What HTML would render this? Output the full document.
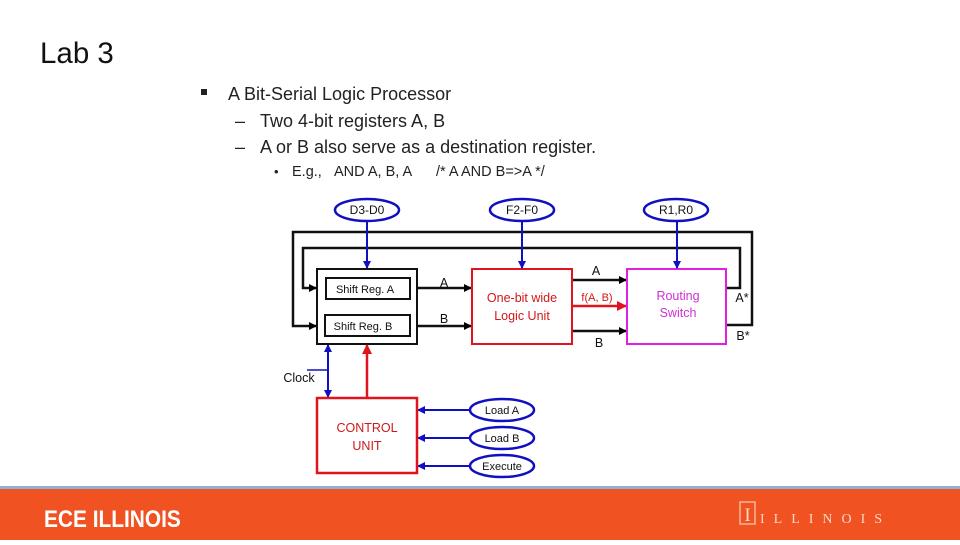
<!DOCTYPE html>
<html><head><meta charset="utf-8"><style>
body{margin:0;width:960px;height:540px;overflow:hidden;background:#fff;font-family:"Liberation Sans",sans-serif}
</style></head><body>
<svg width="960" height="540" viewBox="0 0 960 540" xmlns="http://www.w3.org/2000/svg" font-family="Liberation Sans, sans-serif">
<defs>
<marker id="ak" markerWidth="8" markerHeight="8" refX="7" refY="4" orient="auto" markerUnits="userSpaceOnUse"><path d="M0,0 L8,4 L0,8 z" fill="#000"/></marker>
<marker id="ab" markerWidth="8" markerHeight="8" refX="7" refY="4" orient="auto" markerUnits="userSpaceOnUse"><path d="M0,0 L8,4 L0,8 z" fill="#1010c0"/></marker>
<marker id="ar" markerWidth="10" markerHeight="10" refX="9" refY="5" orient="auto" markerUnits="userSpaceOnUse"><path d="M0,0 L10,5 L0,10 z" fill="#e0141c"/></marker>
</defs>
<text x="40" y="63" font-size="29.5" fill="#111">Lab 3</text>
<rect x="201" y="89" width="6" height="6" fill="#222"/>
<text x="228" y="100" font-size="18" fill="#222">A Bit-Serial Logic Processor</text>
<text x="235" y="127" font-size="18" fill="#222">–</text>
<text x="260" y="127" font-size="18" fill="#222">Two 4-bit registers A, B</text>
<text x="235" y="153" font-size="18" fill="#222">–</text>
<text x="260" y="153" font-size="18" fill="#222">A or B also serve as a destination register.</text>
<text x="274" y="176" font-size="13" fill="#222">•</text>
<text x="292" y="176" font-size="14.5" fill="#222">E.g.,</text>
<text x="334" y="176" font-size="14.5" fill="#222">AND A, B, A</text>
<text x="436" y="176" font-size="14.5" fill="#222">/* A AND B=&gt;A */</text>

<g fill="none" stroke="#111" stroke-width="2.5">
<polyline points="727,325 752,325 752,232 293,232 293,326 316,326" marker-end="url(#ak)"/>
<polyline points="727,288 740,288 740,248 303,248 303,288 316,288" marker-end="url(#ak)"/>
<line x1="417" y1="288" x2="471" y2="288" marker-end="url(#ak)"/>
<line x1="417" y1="326" x2="471" y2="326" marker-end="url(#ak)"/>
<line x1="572" y1="280" x2="626" y2="280" marker-end="url(#ak)"/>
<line x1="572" y1="331" x2="626" y2="331" marker-end="url(#ak)"/>
</g>
<line x1="572" y1="306" x2="626" y2="306" stroke="#e0141c" stroke-width="2.5" marker-end="url(#ar)"/>
<rect x="317" y="269" width="100" height="75" fill="#fff" stroke="#111" stroke-width="2"/>
<rect x="326" y="278" width="84" height="21" fill="#fff" stroke="#111" stroke-width="2"/>
<rect x="325" y="315" width="85" height="21" fill="#fff" stroke="#111" stroke-width="2"/>
<text x="365" y="293" font-size="11" text-anchor="middle" fill="#111">Shift Reg. A</text>
<text x="363" y="330" font-size="11" text-anchor="middle" fill="#111">Shift Reg. B</text>
<rect x="472" y="269" width="100" height="75" fill="#fff" stroke="#e0141c" stroke-width="2"/>
<text x="522" y="302" font-size="12.5" text-anchor="middle" fill="#d01818">One-bit wide</text>
<text x="522" y="320" font-size="12.5" text-anchor="middle" fill="#d01818">Logic Unit</text>
<rect x="627" y="269" width="99" height="75" fill="#fff" stroke="#e020e0" stroke-width="2"/>
<text x="678" y="300" font-size="12.5" text-anchor="middle" fill="#d030d0">Routing</text>
<text x="678" y="317" font-size="12.5" text-anchor="middle" fill="#d030d0">Switch</text>
<g font-size="12.5" fill="#111" text-anchor="middle">
<text x="444" y="287">A</text><text x="444" y="323">B</text>
<text x="596" y="275">A</text><text x="599" y="347">B</text>
<text x="742" y="302">A*</text><text x="743" y="340">B*</text>
<text x="299" y="382">Clock</text>
</g>
<text x="597" y="301" font-size="11" text-anchor="middle" fill="#d01818">f(A, B)</text>

<g stroke="#1010c0" stroke-width="2" fill="none">
<line x1="367" y1="221" x2="367" y2="268" marker-end="url(#ab)"/>
<line x1="522" y1="221" x2="522" y2="268" marker-end="url(#ab)"/>
<line x1="677" y1="221" x2="677" y2="268" marker-end="url(#ab)"/>
<line x1="328" y1="372" x2="328" y2="345" marker-end="url(#ab)"/>
<line x1="328" y1="372" x2="328" y2="397" marker-end="url(#ab)"/>
<line x1="307" y1="370" x2="328" y2="370" stroke-width="1.5"/>
<line x1="470" y1="410" x2="418" y2="410" marker-end="url(#ab)"/>
<line x1="470" y1="438" x2="418" y2="438" marker-end="url(#ab)"/>
<line x1="470" y1="466" x2="418" y2="466" marker-end="url(#ab)"/>
</g>
<line x1="367" y1="398" x2="367" y2="345" stroke="#e0141c" stroke-width="2.5" marker-end="url(#ar)"/>
<rect x="317" y="398" width="100" height="75" fill="#fff" stroke="#e0141c" stroke-width="2.5"/>
<text x="367" y="432" font-size="12.5" text-anchor="middle" fill="#d01818">CONTROL</text>
<text x="367" y="450" font-size="12.5" text-anchor="middle" fill="#d01818">UNIT</text>

<g fill="#fff" stroke="#1010c0" stroke-width="2.5">
<ellipse cx="367" cy="210" rx="32" ry="11"/>
<ellipse cx="522" cy="210" rx="32" ry="11"/>
<ellipse cx="676" cy="210" rx="32" ry="11"/>
<ellipse cx="502" cy="410" rx="32" ry="11"/>
<ellipse cx="502" cy="438" rx="32" ry="11"/>
<ellipse cx="502" cy="466" rx="32" ry="11"/>
</g>
<g font-size="12" fill="#111" text-anchor="middle">
<text x="367" y="214">D3-D0</text><text x="522" y="214">F2-F0</text><text x="676" y="214">R1,R0</text>
<text x="502" y="414" font-size="11">Load A</text><text x="502" y="442" font-size="11">Load B</text><text x="502" y="470" font-size="11">Execute</text>
</g>

<rect x="0" y="486" width="960" height="3" fill="#8fb0d8"/>
<rect x="0" y="489" width="960" height="51" fill="#f05222"/>
<text x="44" y="527" font-size="24" font-weight="bold" fill="#fff" transform="translate(44,0) scale(0.87,1) translate(-44,0)">ECE ILLINOIS</text>
<rect x="740" y="502" width="15" height="22" fill="none" stroke="#f7b898" stroke-width="1.5"/>
<text x="747.5" y="521" font-size="19" font-family="Liberation Serif, serif" text-anchor="middle" fill="#fbd8c4">I</text>
<text x="760" y="523" font-size="14" font-family="Liberation Serif, serif" fill="#fbd8c4" letter-spacing="9">ILLINOIS</text>
</svg>
</body></html>
